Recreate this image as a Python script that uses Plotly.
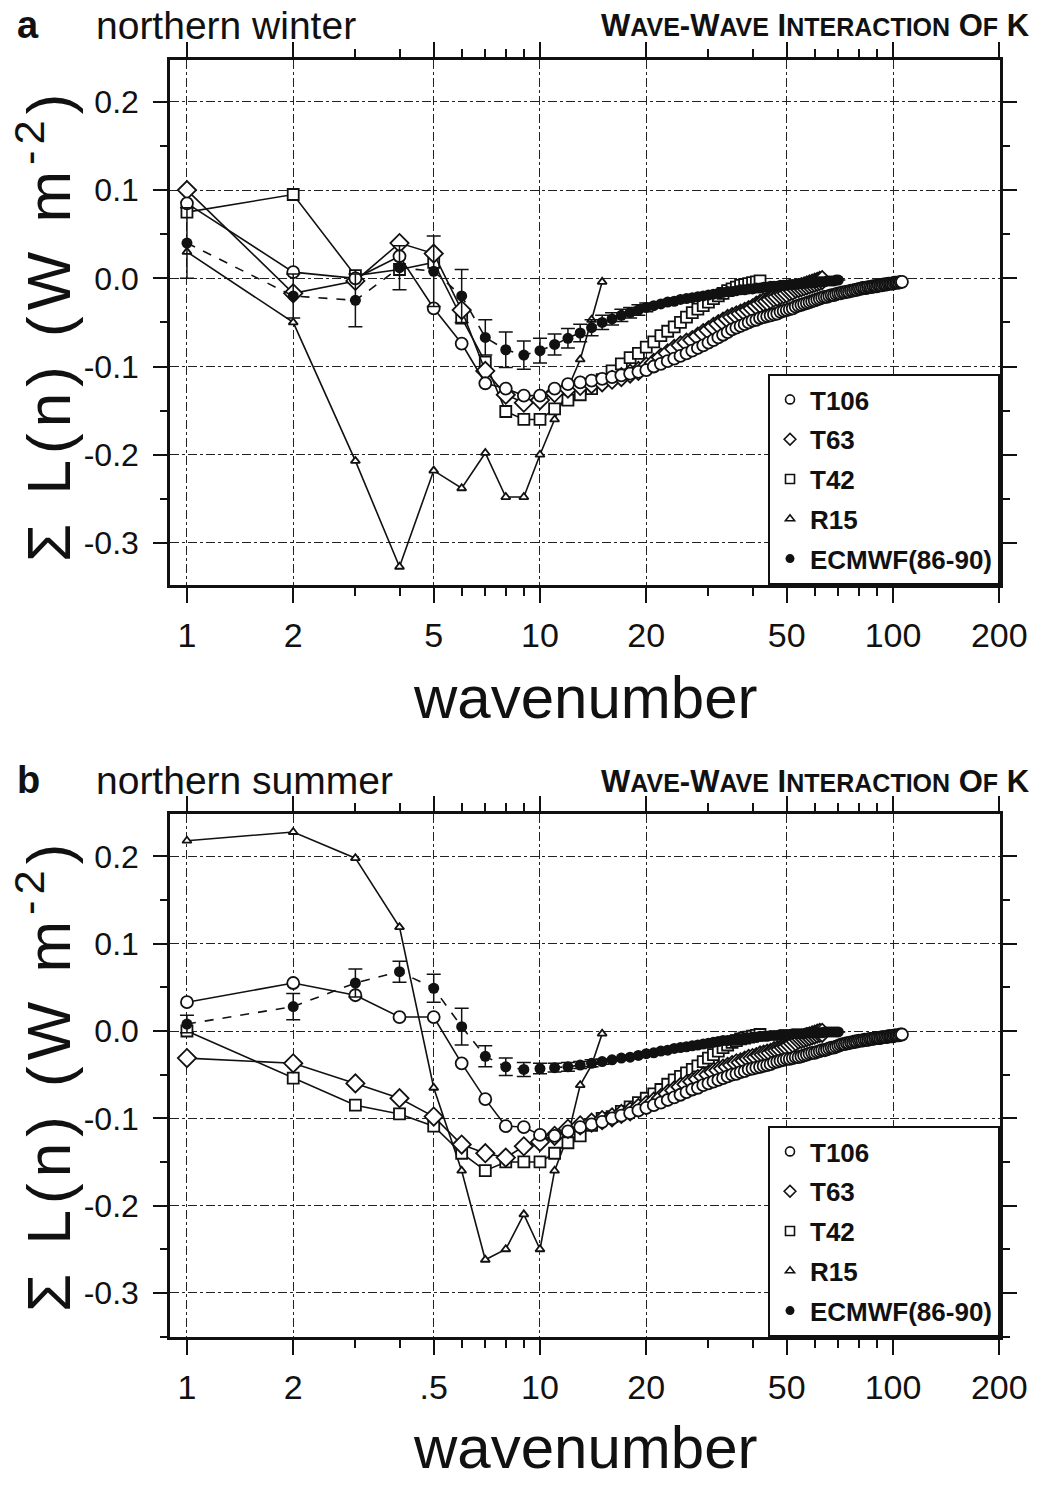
import plotly.graph_objects as go

# ---------------- data ----------------
series_names = ["T106", "T63", "T42", "R15", "ECMWF(86-90)"]
x_tickvals = [1, 2, 5, 10, 20, 50, 100, 200]
x_ticktext_a = ["1", "2", "5", "10", "20", "50", "100", "200"]
x_ticktext_b = ["1", "2", ".5", "10", "20", "50", "100", "200"]
y_tickvals = [-0.3, -0.2, -0.1, 0.0, 0.1, 0.2]
y_ticktext = ["-0.3", "-0.2", "-0.1", "0.0", "0.1", "0.2"]

n_T106 = list(range(1, 107))
n_T63 = list(range(1, 64))
n_T42 = list(range(1, 43))
n_R15 = list(range(1, 16))
n_ECMWF = list(range(1, 71))

# northern winter (a)
win_T106 = [0.085, 0.007, 0.000, 0.025, -0.034, -0.074, -0.119, -0.125, -0.133, -0.133, -0.125, -0.120,
            -0.118, -0.116, -0.114, -0.112, -0.110, -0.108, -0.106, -0.104, -0.100, -0.097, -0.094, -0.091,
            -0.088, -0.085, -0.082, -0.079, -0.076, -0.073, -0.070, -0.067, -0.064, -0.061, -0.058, -0.056,
            -0.054, -0.052, -0.050, -0.048, -0.047, -0.045, -0.044, -0.043, -0.042, -0.041, -0.040, -0.038,
            -0.037, -0.036, -0.035, -0.034, -0.032, -0.031, -0.030, -0.029, -0.028, -0.027, -0.026, -0.025,
            -0.024, -0.023, -0.022, -0.021, -0.021, -0.020, -0.019, -0.019, -0.018, -0.017, -0.017, -0.016,
            -0.016, -0.015, -0.015, -0.014, -0.014, -0.013, -0.013, -0.012, -0.012, -0.011, -0.011, -0.011,
            -0.010, -0.010, -0.010, -0.009, -0.009, -0.009, -0.008, -0.008, -0.008, -0.007, -0.007, -0.007,
            -0.006, -0.006, -0.006, -0.006, -0.005, -0.005, -0.005, -0.005, -0.004, -0.004]
win_T63 = [0.100, -0.017, -0.003, 0.040, 0.028, -0.036, -0.105, -0.132, -0.141, -0.138, -0.130, -0.125,
           -0.122, -0.120, -0.118, -0.115, -0.112, -0.108, -0.105, -0.100, -0.096, -0.090, -0.085, -0.080,
           -0.076, -0.073, -0.070, -0.066, -0.062, -0.059, -0.055, -0.052, -0.049, -0.046, -0.044, -0.042,
           -0.040, -0.038, -0.036, -0.034, -0.031, -0.029, -0.027, -0.026, -0.024, -0.022, -0.021, -0.019,
           -0.018, -0.017, -0.015, -0.014, -0.012, -0.011, -0.010, -0.009, -0.008, -0.007, -0.006, -0.005,
           -0.004, -0.003, -0.002]
win_T42 = [0.075, 0.095, 0.003, 0.010, 0.018, -0.045, -0.095, -0.151, -0.160, -0.160, -0.148, -0.138,
           -0.132, -0.125, -0.115, -0.105, -0.097, -0.090, -0.085, -0.078, -0.072, -0.065, -0.060, -0.055,
           -0.050, -0.044, -0.039, -0.035, -0.031, -0.027, -0.023, -0.020, -0.017, -0.014, -0.012, -0.010,
           -0.008, -0.007, -0.006, -0.005, -0.004, -0.003]
win_R15 = [0.030, -0.050, -0.207, -0.327, -0.218, -0.238, -0.198, -0.248, -0.248, -0.200, -0.160, -0.125,
           -0.092, -0.047, -0.004]
win_ECMWF = [0.040, -0.020, -0.025, 0.012, 0.008, -0.020, -0.067, -0.081, -0.087, -0.082, -0.075, -0.068,
             -0.062, -0.056, -0.050, -0.046, -0.042, -0.039, -0.036, -0.033, -0.031, -0.029, -0.027, -0.026,
             -0.024, -0.023, -0.022, -0.021, -0.020, -0.019, -0.018, -0.017, -0.016, -0.015, -0.015, -0.014,
             -0.013, -0.013, -0.012, -0.012, -0.011, -0.011, -0.010, -0.010, -0.009, -0.009, -0.009, -0.008,
             -0.008, -0.008, -0.007, -0.007, -0.007, -0.006, -0.006, -0.006, -0.005, -0.005, -0.005, -0.005,
             -0.004, -0.004, -0.004, -0.004, -0.003, -0.003, -0.003, -0.003, -0.002, -0.002]
win_ECMWF_err = [0.040, 0.025, 0.030, 0.025, 0.040, 0.030, 0.020, 0.020, 0.016, 0.014, 0.012, 0.011,
                 0.010, 0.009, 0.008, 0.007, 0.007, 0.006, 0.006, 0.005]

# northern summer (b)
sum_T106 = [0.033, 0.055, 0.041, 0.016, 0.016, -0.037, -0.078, -0.109, -0.110, -0.119, -0.120, -0.115,
            -0.110, -0.107, -0.104, -0.100, -0.097, -0.094, -0.091, -0.088, -0.085, -0.082, -0.079, -0.076,
            -0.073, -0.070, -0.067, -0.065, -0.062, -0.060, -0.058, -0.056, -0.054, -0.052, -0.050, -0.049,
            -0.047, -0.046, -0.044, -0.043, -0.042, -0.041, -0.040, -0.039, -0.038, -0.036, -0.035, -0.034,
            -0.033, -0.032, -0.032, -0.031, -0.030, -0.030, -0.029, -0.028, -0.027, -0.026, -0.025, -0.025,
            -0.024, -0.023, -0.022, -0.022, -0.021, -0.020, -0.019, -0.019, -0.018, -0.017, -0.016, -0.015,
            -0.015, -0.014, -0.014, -0.013, -0.013, -0.012, -0.012, -0.011, -0.011, -0.011, -0.010, -0.010,
            -0.010, -0.009, -0.009, -0.009, -0.008, -0.008, -0.008, -0.008, -0.007, -0.007, -0.007, -0.007,
            -0.006, -0.006, -0.006, -0.006, -0.005, -0.005, -0.005, -0.005, -0.004, -0.004]
sum_T63 = [-0.031, -0.037, -0.060, -0.077, -0.098, -0.130, -0.140, -0.145, -0.132, -0.127, -0.120, -0.112,
           -0.108, -0.105, -0.102, -0.099, -0.095, -0.092, -0.088, -0.085, -0.081, -0.077, -0.072, -0.068,
           -0.064, -0.061, -0.058, -0.055, -0.052, -0.050, -0.047, -0.045, -0.043, -0.041, -0.039, -0.037,
           -0.036, -0.034, -0.032, -0.031, -0.030, -0.028, -0.027, -0.026, -0.025, -0.023, -0.022, -0.021,
           -0.019, -0.018, -0.016, -0.014, -0.012, -0.010, -0.009, -0.008, -0.007, -0.006, -0.005, -0.004,
           -0.003, -0.002, -0.002]
sum_T42 = [0.000, -0.054, -0.085, -0.095, -0.109, -0.140, -0.160, -0.150, -0.150, -0.150, -0.140, -0.128,
           -0.120, -0.108, -0.100, -0.098, -0.092, -0.087, -0.082, -0.077, -0.072, -0.067, -0.061, -0.056,
           -0.052, -0.048, -0.044, -0.040, -0.035, -0.031, -0.027, -0.023, -0.019, -0.016, -0.013, -0.011,
           -0.009, -0.008, -0.007, -0.006, -0.005, -0.004]
sum_R15 = [0.218, 0.228, 0.198, 0.119, -0.065, -0.160, -0.262, -0.250, -0.210, -0.250, -0.160, -0.120,
           -0.062, -0.039, -0.003]
sum_ECMWF = [0.008, 0.028, 0.055, 0.068, 0.049, 0.005, -0.029, -0.041, -0.044, -0.043, -0.042, -0.041,
             -0.039, -0.037, -0.035, -0.033, -0.031, -0.030, -0.028, -0.026, -0.025, -0.023, -0.022, -0.020,
             -0.019, -0.018, -0.017, -0.016, -0.015, -0.014, -0.013, -0.012, -0.011, -0.011, -0.010, -0.009,
             -0.009, -0.008, -0.008, -0.007, -0.007, -0.006, -0.006, -0.006, -0.005, -0.005, -0.005, -0.004,
             -0.004, -0.004, -0.004, -0.003, -0.003, -0.003, -0.003, -0.003, -0.002, -0.002, -0.002, -0.002,
             -0.002, -0.002, -0.002, -0.001, -0.001, -0.001, -0.001, -0.001, -0.001, -0.001]
sum_ECMWF_err = [0.010, 0.015, 0.016, 0.012, 0.016, 0.021, 0.012, 0.010, 0.008, 0.006, 0.005, 0.005,
                 0.004, 0.004, 0.003]

# ---------------- styling ----------------
W, H = 1041, 1485
FONT = "Liberation Sans, Arial, sans-serif"
BLACK = "#111111"
LINE_W = 1.6

x_dom = [170 / W, 1000 / W]
ya_dom = [1 - 585 / H, 1 - 60 / H]
yb_dom = [1 - 1337 / H, 1 - 814 / H]
x_range = [-0.048, 2.303]
ya_range = [-0.3477, 0.2475]
yb_range = [-0.3505, 0.2486]

styles = {
    "T106": dict(symbol="circle", size=12),
    "T63": dict(symbol="diamond", size=14),
    "T42": dict(symbol="square", size=11),
    "R15": dict(symbol="triangle-up", size=8),
}

fig = go.Figure()


def add_panel(xa, ya, legend_name, data):
    (t106, t63, t42, r15, ec, ec_err) = data
    err = list(ec_err) + [None] * (len(ec) - len(ec_err))
    for name, xs, ys in [("R15", n_R15, r15), ("T42", n_T42, t42), ("T63", n_T63, t63), ("T106", n_T106, t106)]:
        st = styles[name]
        fig.add_trace(go.Scatter(
            x=xs, y=ys, mode="lines+markers", xaxis=xa, yaxis=ya, showlegend=False,
            line=dict(color=BLACK, width=LINE_W),
            marker=dict(symbol=st["symbol"], size=st["size"], color="white",
                        line=dict(color=BLACK, width=1.8))))
    fig.add_trace(go.Scatter(
        x=n_ECMWF, y=ec, mode="lines+markers", xaxis=xa, yaxis=ya, showlegend=False,
        line=dict(color=BLACK, width=LINE_W, dash="dash"),
        marker=dict(symbol="circle", size=11, color=BLACK),
        error_y=dict(type="data", array=err, visible=True, color=BLACK, thickness=1.5, width=7)))
    # legend entries
    for name in series_names:
        if name in styles:
            mk = dict(symbol=styles[name]["symbol"], size=9 if name != "R15" else 8, color="white",
                      line=dict(color=BLACK, width=1.6))
        else:
            mk = dict(symbol="circle", size=9, color=BLACK)
        fig.add_trace(go.Scatter(
            x=[None], y=[None], mode="markers", name=name, marker=mk, xaxis=xa, yaxis=ya,
            legend=legend_name, legendgroup=legend_name + name, showlegend=True))


add_panel("x", "y", "legend", (win_T106, win_T63, win_T42, win_R15, win_ECMWF, win_ECMWF_err))
add_panel("x2", "y2", "legend2", (sum_T106, sum_T63, sum_T42, sum_R15, sum_ECMWF, sum_ECMWF_err))

minor_x = [3, 4, 6, 7, 8, 9, 30, 40, 60, 70, 80, 90]

common_x = dict(
    type="log", range=x_range, domain=x_dom, tickmode="array", tickvals=x_tickvals,
    ticks="outside", ticklen=15, tickwidth=2, tickcolor=BLACK,
    showline=True, linewidth=2.5, linecolor=BLACK, mirror="ticks",
    showgrid=True, gridcolor="#222222", gridwidth=1, griddash="dashdot",
    tickfont=dict(family=FONT, size=34, color=BLACK), ticklabelstandoff=3,
    minor=dict(tickmode="array", tickvals=minor_x, ticks="outside", ticklen=8, tickwidth=1.5,
               tickcolor=BLACK, showgrid=False),
    zeroline=False, fixedrange=True, automargin=False)
common_y = dict(
    tickmode="array", tickvals=y_tickvals, ticktext=y_ticktext,
    ticks="outside", ticklen=14, tickwidth=2, tickcolor=BLACK,
    showline=True, linewidth=2.5, linecolor=BLACK, mirror="ticks",
    showgrid=True, gridcolor="#222222", gridwidth=1, griddash="dashdot",
    tickfont=dict(family=FONT, size=32, color=BLACK), ticklabelstandoff=8,
    minor=dict(tickmode="array", tickvals=[-0.35, -0.25, -0.15, -0.05, 0.05, 0.15],
               ticks="outside", ticklen=7, tickwidth=1.5, tickcolor=BLACK, showgrid=False),
    zeroline=False, fixedrange=True, automargin=False)

legend_common = dict(
    xanchor="right", yanchor="bottom", bgcolor="white", bordercolor=BLACK, borderwidth=2,
    font=dict(family=FONT, size=26, color=BLACK, weight="bold"), tracegroupgap=3,
    itemsizing="trace", itemwidth=30)

small = "font-size:25px"
title_k = ("W<span style='%s'>AVE</span>-W<span style='%s'>AVE</span> I<span style='%s'>NTERACTION</span> "
           "O<span style='%s'>F</span> K") % (small, small, small, small)

ytitle = "<span style='letter-spacing:6px'>\u03a3 L(n) (W m<sup>-2</sup>)</span>"

annotations = []
for (lab, sub, ytop_px, ymid_px, xlab_px) in [("a", "northern winter", 25, 325, 697),
                                              ("b", "northern summer", 780, 1075, 1447)]:
    annotations += [
        dict(text="<b>%s</b>" % lab, x=28 / W, y=1 - ytop_px / H, xref="paper", yref="paper",
             showarrow=False, xanchor="center", yanchor="middle",
             font=dict(family=FONT, size=38, color=BLACK)),
        dict(text=sub, x=94 / W, y=1 - ytop_px / H, xref="paper", yref="paper",
             showarrow=False, xanchor="left", yanchor="middle",
             font=dict(family=FONT, size=39, color=BLACK)),
        dict(text="<b>%s</b>" % title_k, x=1032 / W, y=1 - (ytop_px + 1) / H, xref="paper", yref="paper",
             showarrow=False, xanchor="right", yanchor="middle",
             font=dict(family=FONT, size=31, color=BLACK)),
        dict(text=ytitle, x=44 / W, y=1 - ymid_px / H, xref="paper", yref="paper",
             showarrow=False, xanchor="center", yanchor="middle", textangle=-90,
             font=dict(family=FONT, size=62, color=BLACK)),
        dict(text="wavenumber", x=585 / W, y=1 - xlab_px / H, xref="paper", yref="paper",
             showarrow=False, xanchor="center", yanchor="middle",
             font=dict(family=FONT, size=60, color=BLACK)),
    ]

fig.update_layout(
    width=W, height=H, margin=dict(l=0, r=0, t=0, b=0, pad=0, autoexpand=False),
    paper_bgcolor="white", plot_bgcolor="white",
    font=dict(family=FONT, color=BLACK),
    xaxis=dict(common_x, anchor="y", ticktext=x_ticktext_a),
    yaxis=dict(common_y, domain=ya_dom, range=ya_range, anchor="x"),
    xaxis2=dict(common_x, anchor="y2", ticktext=x_ticktext_b),
    yaxis2=dict(common_y, domain=yb_dom, range=yb_range, anchor="x2"),
    legend=dict(legend_common, x=x_dom[1], y=ya_dom[0]),
    legend2=dict(legend_common, x=x_dom[1], y=yb_dom[0]),
    annotations=annotations,
    showlegend=True,
)

fig.write_html("out.html")
